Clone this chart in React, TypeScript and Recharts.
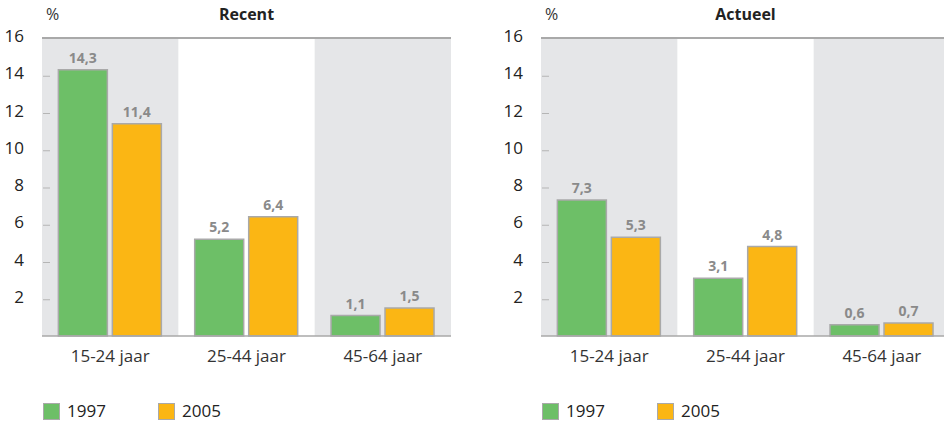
import React from 'react';
import {
  BarChart,
  Bar,
  XAxis,
  YAxis,
  Legend,
  LabelList,
  ReferenceArea,
  ReferenceLine,
} from 'recharts';

const categories = ['15-24 jaar', '25-44 jaar', '45-64 jaar'];
const recent1997 = [14.3, 5.2, 1.1];
const recent2005 = [11.4, 6.4, 1.5];
const actueel1997 = [7.3, 3.1, 0.6];
const actueel2005 = [5.3, 4.8, 0.7];
const yTicks = [2, 4, 6, 8, 10, 12, 14, 16];
const seriesNames = ['1997', '2005'];

const GREEN = '#6dbf67';
const ORANGE = '#fbb614';
const BAND = '#e5e6e8';
const EDGE = '#a9a9a9';
const FONT = '"Open Sans", "Noto Sans", sans-serif';
const AXIS_W = 42;

function buildRows(a: number[], b: number[]) {
  return categories.map((cat, i) => ({ cat, y1997: a[i], y2005: b[i] }));
}

const fmt = (v: any) => String(v).replace('.', ',');

function YTick(props: any) {
  const { x, y, payload } = props;
  return (
    <g>
      <text x={x} y={y} dy={4} textAnchor="end" fontSize={17} fill="#222" fontFamily={FONT}>
        {payload.value}
      </text>
      {payload.value !== 16 && (
        <line x1={AXIS_W + 1} x2={AXIS_W + 8} y1={y + 1} y2={y + 1} stroke="#b5b5b5" strokeWidth={1} />
      )}
    </g>
  );
}

function LegendBox() {
  const colors = [GREEN, ORANGE];
  return (
    <div
      style={{
        display: 'flex',
        paddingLeft: AXIS_W + 1,
        paddingTop: 29,
        fontFamily: FONT,
        fontSize: 17,
        lineHeight: '20px',
        color: '#222',
      }}
    >
      {seriesNames.map((name, i) => (
        <span key={name} style={{ display: 'flex', alignItems: 'center', width: 115 }}>
          <span
            style={{
              width: 15,
              height: 15,
              background: colors[i],
              border: `1px solid ${EDGE}`,
              display: 'inline-block',
              marginRight: 7,
            }}
          />
          {name}
        </span>
      ))}
    </div>
  );
}

function Panel({ title, a, b, left }: { title: string; a: number[]; b: number[]; left: number }) {
  const data = buildRows(a, b);
  return (
    <div style={{ position: 'absolute', left, top: 0, width: 460, height: 422 }}>
      <div
        style={{
          position: 'absolute',
          left: AXIS_W + 4,
          top: 3,
          fontFamily: FONT,
          fontSize: 16,
          color: '#333',
        }}
      >
        %
      </div>
      <div
        style={{
          position: 'absolute',
          left: AXIS_W,
          width: 409,
          top: 3,
          textAlign: 'center',
          fontFamily: FONT,
          fontSize: 16,
          fontWeight: 700,
          color: '#222',
        }}
      >
        {title}
      </div>
      <BarChart
        width={460}
        height={422}
        data={data}
        margin={{ top: 38, right: 9, left: 0, bottom: 0 }}
        barCategoryGap="12%"
        barGap={5}
      >
        <ReferenceArea x1={categories[0]} x2={categories[0]} fill={BAND} fillOpacity={1} stroke="none" />
        <ReferenceArea x1={categories[2]} x2={categories[2]} fill={BAND} fillOpacity={1} stroke="none" />
        <ReferenceLine y={16} stroke={EDGE} strokeWidth={2} />
        <XAxis
          dataKey="cat"
          height={36}
          tickLine={false}
          tickMargin={8}
          axisLine={{ stroke: EDGE, strokeWidth: 1.5 }}
          tick={{ fontSize: 17, fill: '#333', fontFamily: FONT }}
        />
        <YAxis
          width={AXIS_W}
          domain={[0, 16]}
          ticks={yTicks}
          axisLine={false}
          tickLine={false}
          tickMargin={12}
          tick={<YTick />}
        />
        <Legend verticalAlign="bottom" align="left" height={50} content={() => <LegendBox />} />
        <Bar dataKey="y1997" name="1997" fill={GREEN} stroke={EDGE} strokeWidth={1.5} isAnimationActive={false}>
          <LabelList
            dataKey="y1997"
            position="top"
            offset={7}
            formatter={fmt}
            style={{ fill: '#8a8a8a', fontSize: 14, fontWeight: 700, fontFamily: FONT }}
          />
        </Bar>
        <Bar dataKey="y2005" name="2005" fill={ORANGE} stroke={EDGE} strokeWidth={1.5} isAnimationActive={false}>
          <LabelList
            dataKey="y2005"
            position="top"
            offset={7}
            formatter={fmt}
            style={{ fill: '#8a8a8a', fontSize: 14, fontWeight: 700, fontFamily: FONT }}
          />
        </Bar>
      </BarChart>
    </div>
  );
}

export default function App() {
  return (
    <div
      style={{
        position: 'absolute',
        left: 0,
        top: 0,
        width: 944,
        height: 422,
        overflow: 'hidden',
        background: '#fff',
      }}
    >
      <Panel title="Recent" a={recent1997} b={recent2005} left={0} />
      <Panel title="Actueel" a={actueel1997} b={actueel2005} left={499} />
    </div>
  );
}
